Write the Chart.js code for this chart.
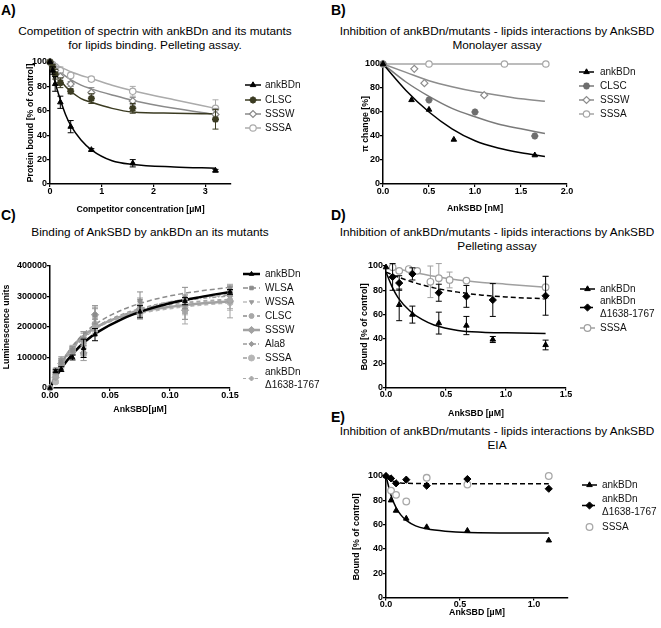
<!DOCTYPE html>
<html>
<head>
<meta charset="utf-8">
<script src="https://cdn.jsdelivr.net/npm/chart.js@4.4.0/dist/chart.umd.min.js"></script>
<style>
  body { margin: 0; background: #fff; width: 661px; height: 628px; position: relative; overflow: hidden;
         font-family: "Liberation Sans", Arial, sans-serif; color: #000; }
  .box { position: absolute; }
  .letter { position: absolute; font-weight: bold; font-size: 14px; line-height: 14px; }
  .ttl { position: absolute; font-size: 11.8px; line-height: 13.5px; text-align: center; white-space: nowrap; transform: translateX(-50%); }
</style>
</head>
<body>

<div class="letter" style="left:1px;top:3px">A)</div>
<div class="ttl" style="left:155px;top:25px">Competition of spectrin with ankBDn and its mutants<br>for lipids binding. Pelleting assay.</div>
<div class="letter" style="left:331px;top:3px">B)</div>
<div class="ttl" style="left:497px;top:25px">Inhibition of ankBDn/mutants - lipids interactions by AnkSBD<br>Monolayer assay</div>
<div class="letter" style="left:1px;top:208px">C)</div>
<div class="ttl" style="left:150px;top:226px">Binding of AnkSBD by ankBDn an its mutants</div>
<div class="letter" style="left:331px;top:208px">D)</div>
<div class="ttl" style="left:497px;top:226px">Inhibition of ankBDn/mutants - lipids interactions by AnkSBD<br>Pelleting assay</div>
<div class="letter" style="left:331px;top:410px">E)</div>
<div class="ttl" style="left:497px;top:425px">Inhibition of ankBDn/mutants - lipids interactions by AnkSBD<br>EIA</div>

<script>
// ---------- A) competition of spectrin, pelleting assay ----------
const aConc = [0, 0.05, 0.1, 0.2, 0.4, 0.8, 1.6, 3.2];
const aAnkBDn = [100, 93, 82, 67, 47, 28, 17, 11];
const aAnkBDnErr = [0, 3, 6, 5, 5, 1, 3, 1];
const aCLSC = [100, 96, 90, 83, 76, 70, 62, 53];
const aCLSCErr = [0, 2, 4, 4, 2, 4, 4, 8];
const aSSSW = [100, 97, 93, 88, 82, 75, 68, 57];
const aSSSWErr = [0, 2, 3, 3, 2, 4, 3, 5];
const aSSSA = [100, 98, 96, 93, 89, 86, 76, 62];
const aSSSAErr = [0, 1, 2, 3, 2, 2, 4, 7];
// fitted curves
const aFitX = [0, 0.1, 0.2, 0.3, 0.4, 0.6, 0.8, 1.2, 1.6, 2.4, 3.2];
const aFitAnkBDn = [100, 83, 69, 57, 48, 36, 28, 19, 16, 14, 13];
const aFitCLSC = [100, 92, 85, 80, 76, 70, 67, 62, 59, 58, 57.5];
const aFitSSSW = [100, 95.5, 92, 88.5, 85.5, 81, 78, 73, 68.5, 62, 57];
const aFitSSSA = [100, 98, 96, 94, 92, 89, 86.5, 81, 76.5, 69, 62];
const aXTicks = [0, 1, 2, 3];
const aXTickLabels = ['0', '1', '2', '3'];
const pctTicks = [0, 20, 40, 60, 80, 100];
const pctTickLabels = ['0', '20', '40', '60', '80', '100'];

// ---------- B) monolayer assay ----------
const bAnkBDnX = [0, 0.31, 0.5, 0.77, 1.65];
const bAnkBDn = [100, 70, 62, 37, 24];
const bCLSCX = [0, 0.5, 1.0, 1.65];
const bCLSC = [100, 70, 60, 40];
const bSSSWX = [0, 0.34, 0.45, 1.1];
const bSSSW = [100, 96, 84, 74];
const bSSSAX = [0, 0.5, 1.32, 1.77];
const bSSSA = [100, 100, 100, 100];
const bFitX = [0, 0.25, 0.5, 0.75, 1.0, 1.25, 1.5, 1.76];
const bFitAnkBDn = [100, 78, 60, 46, 36, 30, 26, 23];
const bFitCLSC = [100, 85, 73, 63, 56, 50, 46, 42];
const bFitSSSW = [100, 93, 86, 81, 77, 74, 71, 69];
const bFitSSSA = [100, 100, 100, 100, 100, 100, 100, 100];
const bXTicks = [0, 0.5, 1.0, 1.5, 2.0];
const bXTickLabels = ['0.0', '0.5', '1.0', '1.5', '2.0'];

// ---------- C) binding of AnkSBD ----------
const cConc = [0, 0.0047, 0.0094, 0.0188, 0.028, 0.0375, 0.075, 0.1125, 0.15];
const cAnkBDn = [0, 55000, 62000, 100000, 130000, 175000, 250000, 285000, 315000];
const cAnkBDnErr = [0, 5000, 8000, 8000, 30000, 20000, 20000, 12000, 8000];
const cWLSA = [0, 60000, 85000, 125000, 160000, 240000, 285000, 295000, 325000];
const cWLSAErr = [0, 5000, 10000, 10000, 20000, 30000, 30000, 35000, 10000];
const cWSSA = [0, 50000, 75000, 118000, 150000, 225000, 270000, 265000, 318000];
const cWSSAErr = [0, 5000, 8000, 10000, 15000, 35000, 25000, 40000, 15000];
const cCLSC = [0, 40000, 85000, 128000, 150000, 205000, 255000, 250000, 290000];
const cCLSCErr = [0, 5000, 10000, 10000, 20000, 25000, 20000, 40000, 30000];
const cSSSW = [0, 35000, 80000, 120000, 115000, 240000, 260000, 255000, 285000];
const cSSSWErr = [0, 5000, 10000, 10000, 25000, 25000, 25000, 30000, 55000];
const cAla8 = [0, 45000, 90000, 125000, 165000, 200000, 250000, 270000, 300000];
const cAla8Err = [0, 5000, 8000, 10000, 20000, 25000, 20000, 25000, 20000];
const cSSSA = [0, 20000, 75000, 130000, 110000, 210000, 245000, 265000, 280000];
const cSSSAErr = [0, 5000, 10000, 10000, 20000, 25000, 20000, 25000, 25000];
const cDelta = [0, 50000, 95000, 120000, 165000, 215000, 265000, 280000, 310000];
const cDeltaErr = [0, 5000, 8000, 10000, 20000, 25000, 25000, 25000, 20000];
const cFitX = [0, 0.005, 0.01, 0.02, 0.03, 0.04, 0.06, 0.08, 0.1, 0.125, 0.15];
const cFitAnkBDn = [0, 36000, 68000, 117000, 155000, 184000, 226000, 256000, 278000, 298000, 315000];
const cFitWLSA = [0, 45000, 84000, 143000, 185000, 215000, 256000, 283000, 302000, 318000, 330000];
const cFitWSSA = [0, 43000, 80000, 136000, 175000, 204000, 242000, 266000, 283000, 296000, 305000];
const cFitCLSC = [0, 44000, 82000, 138000, 176000, 203000, 238000, 259000, 273000, 284000, 290000];
const cFitSSSW = [0, 46000, 85000, 141000, 178000, 203000, 235000, 254000, 266000, 277000, 284000];
const cFitAla8 = [0, 42000, 79000, 134000, 172000, 200000, 238000, 262000, 279000, 293000, 302000];
const cFitSSSA = [0, 47000, 86000, 141000, 177000, 201000, 231000, 249000, 261000, 272000, 280000];
const cFitDelta = [0, 41000, 77000, 131000, 169000, 198000, 238000, 264000, 283000, 298000, 310000];
const cXTicks = [0, 0.05, 0.10, 0.15];
const cXTickLabels = ['0.00', '0.05', '0.10', '0.15'];
const cYTicks = [0, 100000, 200000, 300000, 400000];
const cYTickLabels = ['0', '100000', '200000', '300000', '400000'];

// ---------- D) pelleting assay ----------
const dAnkBDnX = [0, 0.11, 0.22, 0.44, 0.67, 0.89, 1.33];
const dAnkBDn = [99, 68, 60, 53, 51, 39.5, 35];
const dAnkBDnErr = [0, 13, 7, 9, 7.5, 2.5, 4];
const dDeltaX = [0.055, 0.11, 0.22, 0.44, 0.67, 0.89, 1.33];
const dDelta = [91, 86, 93.5, 78, 75, 72, 75.5];
const dDeltaErr = [11, 6, 5, 7, 9, 13.5, 16];
const dSSSAX = [0.055, 0.11, 0.19, 0.26, 0.37, 0.44, 0.53, 0.67, 1.33];
const dSSSA = [99, 96, 97.5, 96, 87, 90, 88.5, 88, 82.5];
const dSSSAErr = [1, 1, 1, 1, 13, 12, 6.5, 1, 9];
const dFitX = [0, 0.05, 0.1, 0.2, 0.3, 0.4, 0.6, 0.8, 1.0, 1.33];
const dFitAnkBDn = [95, 83, 74, 63, 56, 51.5, 47, 45.5, 45, 44.5];
const dFitDelta = [95, 93, 91, 87.5, 84.5, 82, 78.5, 76, 74.5, 73];
const dFitSSSA = [99, 98.5, 97.5, 95.5, 93.5, 91.5, 88.5, 86.5, 85, 82.5];
const dXTicks = [0, 0.5, 1.0, 1.5];
const dXTickLabels = ['0.0', '0.5', '1.0', '1.5'];

// ---------- E) EIA ----------
const eConc = [0, 0.034, 0.068, 0.137, 0.275, 0.55, 1.1];
const eAnkBDn = [100, 80, 71.5, 65, 58, 55, 47];
const eDelta = [100, 98, 94, 97, 92, 97.5, 89.5];
const eSSSAX = [0.034, 0.068, 0.137, 0.275, 0.55, 1.1];
const eSSSA = [88, 84.5, 79, 98.5, 93, 100];
const eFitX = [0, 0.034, 0.068, 0.1, 0.137, 0.2, 0.275, 0.4, 0.55, 1.1];
const eFitAnkBDn = [100, 84, 74, 68, 63.5, 59, 56.5, 54.5, 53.5, 53];
const eFitDelta = [100, 96.5, 95, 94.3, 94, 93.8, 93.7, 93.7, 93.7, 93.7];
const eXTicks = [0, 0.5, 1.0];
const eXTickLabels = ['0.0', '0.5', '1.0'];

const FONT = '"Liberation Sans", Arial, sans-serif';

// draws vertical error bars under the markers
const errorBars = {
  id: 'errorBars',
  beforeDatasetDraw(chart, args) {
    const ds = chart.data.datasets[args.index];
    if (!ds.errors) return;
    const ctx = chart.ctx, ys = chart.scales.y;
    ctx.save();
    ctx.strokeStyle = ds.pointBorderColor;
    ctx.lineWidth = 1;
    args.meta.data.forEach((pt, i) => {
      const e = ds.errors[i];
      if (!e) return;
      const v = ds.data[i].y;
      const y1 = ys.getPixelForValue(v - e), y2 = ys.getPixelForValue(v + e);
      ctx.beginPath();
      ctx.moveTo(pt.x, y1); ctx.lineTo(pt.x, y2);
      ctx.moveTo(pt.x - 3, y1); ctx.lineTo(pt.x + 3, y1);
      ctx.moveTo(pt.x - 3, y2); ctx.lineTo(pt.x + 3, y2);
      ctx.stroke();
    });
    ctx.restore();
  }
};

// legend at the right of each panel: line + marker + label
const sideLegend = {
  id: 'sideLegend',
  afterDraw(chart, args, opts) {
    if (!opts.items) return;
    const ctx = chart.ctx;
    ctx.save();
    opts.items.forEach(it => {
      const y = it.y - opts.oy;
      const x0 = opts.x0 - opts.ox, x1 = opts.x1 - opts.ox;
      if (it.fit != null) {
        const f = chart.data.datasets[it.fit];
        ctx.strokeStyle = f.borderColor;
        ctx.lineWidth = f.borderWidth;
        ctx.setLineDash(f.borderDash || []);
        ctx.beginPath(); ctx.moveTo(x0, y); ctx.lineTo(x1, y); ctx.stroke();
        ctx.setLineDash([]);
      }
      const p = chart.data.datasets[it.pts];
      ctx.fillStyle = p.pointBackgroundColor;
      ctx.strokeStyle = p.pointBorderColor;
      ctx.lineWidth = p.pointBorderWidth;
      Chart.helpers.drawPoint(ctx, { pointStyle: p.pointStyle, radius: p.pointRadius,
        rotation: p.pointRotation || 0, borderWidth: p.pointBorderWidth }, (x0 + x1) / 2, y);
      ctx.fillStyle = '#111';
      ctx.font = '10px ' + FONT;
      ctx.textBaseline = 'middle';
      const n = it.text.length;
      it.text.forEach((t, k) => ctx.fillText(t, opts.tx - opts.ox, y + (k - (n - 1) / 2) * 13));
    });
    ctx.restore();
  }
};

function pts(xs, ys, errs, st) {
  return {
    data: xs.map((x, i) => ({ x: x, y: ys[i] })), errors: errs, showLine: false, order: 0, clip: false,
    pointStyle: st.shape, pointRadius: st.r, pointRotation: st.rot || 0,
    pointBackgroundColor: st.fill, pointBorderColor: st.color, pointBorderWidth: st.bw || 1,
    borderColor: st.color, backgroundColor: st.fill
  };
}
function fit(xs, ys, st) {
  return {
    data: xs.map((x, i) => ({ x: x, y: ys[i] })), showLine: true, order: 1, clip: false,
    pointRadius: 0, borderColor: st.line || st.color, borderWidth: st.lw || 1.2,
    borderDash: st.dash || [], cubicInterpolationMode: 'monotone', fill: false
  };
}

function axis(ticks, labels, min, max, title, fixSize, horizontal) {
  return {
    type: 'linear', min: min, max: max,
    afterBuildTicks: s => { s.ticks = ticks.map(v => ({ value: v })); },
    afterFit: s => { if (horizontal) s.height = fixSize; else s.width = fixSize; },
    ticks: {
      callback: (v, i) => labels[i], color: '#000', padding: horizontal ? -1 : 0, maxRotation: 0, autoSkip: false,
      font: { family: FONT, size: 9, weight: 'bold' }
    },
    grid: { drawOnChartArea: false, drawTicks: true, tickLength: 3, color: '#000', lineWidth: 1.2 },
    border: { display: true, color: '#000', width: 1.5 },
    title: { display: true, text: title, color: '#000', padding: 0,
             font: { family: FONT, size: 8.8, weight: 'bold' } }
  };
}

function panel(g, datasets, xAx, yAx, legend) {
  const div = document.createElement('div');
  div.className = 'box';
  div.style.left = g.cl + 'px'; div.style.top = g.ct + 'px';
  const cv = document.createElement('canvas');
  cv.width = g.cw; cv.height = g.ch;
  div.appendChild(cv);
  document.body.appendChild(div);
  legend.ox = g.cl; legend.oy = g.ct;
  new Chart(cv, {
    type: 'scatter',
    data: { datasets: datasets },
    options: {
      responsive: false, animation: false, events: [],
      layout: { padding: { left: 0, bottom: 0, top: g.top - g.ct, right: g.cl + g.cw - g.right } },
      scales: {
        x: axis(xAx.ticks, xAx.labels, xAx.min, xAx.max, xAx.title, g.ct + g.ch - g.bottom, true),
        y: axis(yAx.ticks, yAx.labels, yAx.min, yAx.max, yAx.title, g.left - g.cl, false)
      },
      plugins: { legend: { display: false }, tooltip: { enabled: false }, sideLegend: legend }
    },
    plugins: [errorBars, sideLegend]
  });
}

// ----- styles -----
const sAnk = { shape: 'triangle', r: 3.2, fill: '#000', color: '#000', lw: 1.5 };
const sDelta = { shape: 'rectRot', r: 3.6, fill: '#000', color: '#000', lw: 1.5, dash: [5, 3] };

// Panel A
panel({ cl: 25, ct: 50, cw: 305, ch: 165, left: 50, top: 62, right: 231, bottom: 184 }, [
  pts(aConc, aAnkBDn, aAnkBDnErr, sAnk), fit(aFitX, aFitAnkBDn, sAnk),
  pts(aConc, aCLSC, aCLSCErr, { shape: 'star', r: 3.5, fill: '#3b3b22', color: '#3b3b22', bw: 2 }),
  fit(aFitX, aFitCLSC, { color: '#3b3b22', lw: 1.5 }),
  pts(aConc, aSSSW, aSSSWErr, { shape: 'rectRot', r: 3.5, fill: '#fff', color: '#8a8a8a', bw: 1.2 }),
  fit(aFitX, aFitSSSW, { color: '#8a8a8a', lw: 1.5 }),
  pts(aConc, aSSSA, aSSSAErr, { shape: 'circle', r: 3.2, fill: '#fff', color: '#ababab', bw: 1.2 }),
  fit(aFitX, aFitSSSA, { color: '#ababab', lw: 1.5 })
], { ticks: aXTicks, labels: aXTickLabels, min: 0, max: 3.5, title: 'Competitor concentration [µM]' },
   { ticks: pctTicks, labels: pctTickLabels, min: 0, max: 100, title: 'Protein bound [% of control]' },
   { x0: 245, x1: 261, tx: 265, items: [
     { text: ['ankBDn'], y: 85, pts: 0, fit: 1 }, { text: ['CLSC'], y: 100, pts: 2, fit: 3 },
     { text: ['SSSW'], y: 114, pts: 4, fit: 5 }, { text: ['SSSA'], y: 128, pts: 6, fit: 7 }] });

// Panel B
panel({ cl: 360, ct: 52, cw: 301, ch: 162, left: 383, top: 64, right: 567, bottom: 184 }, [
  pts(bAnkBDnX, bAnkBDn, null, sAnk), fit(bFitX, bFitAnkBDn, sAnk),
  pts(bCLSCX, bCLSC, null, { shape: 'star', r: 3.5, fill: '#6e6e6e', color: '#6e6e6e', bw: 2.2 }),
  fit(bFitX, bFitCLSC, { color: '#7a7a7a', lw: 1.5 }),
  pts(bSSSWX, bSSSW, null, { shape: 'rectRot', r: 3.5, fill: '#fff', color: '#8c8c8c', bw: 1.2 }),
  fit(bFitX, bFitSSSW, { color: '#8c8c8c', lw: 1.5 }),
  pts(bSSSAX, bSSSA, null, { shape: 'circle', r: 3.2, fill: '#fff', color: '#a6a6a6', bw: 1.2 }),
  fit(bFitX, bFitSSSA, { color: '#a6a6a6', lw: 1.5 })
], { ticks: bXTicks, labels: bXTickLabels, min: 0, max: 2.0, title: 'AnkSBD [nM]' },
   { ticks: pctTicks, labels: pctTickLabels, min: 0, max: 100, title: 'π change [%]' },
   { x0: 579, x1: 594, tx: 600, items: [
     { text: ['ankBDn'], y: 72, pts: 0, fit: 1 }, { text: ['CLSC'], y: 86, pts: 2, fit: 3 },
     { text: ['SSSW'], y: 100, pts: 4, fit: 5 }, { text: ['SSSA'], y: 114, pts: 6, fit: 7 }] });

// Panel C
const cStyles = [
  { shape: 'triangle', r: 2.6, fill: '#000', color: '#000', lw: 2.5 },
  { shape: 'rect', r: 2.5, fill: '#8c8c8c', color: '#8c8c8c', lw: 1.5, dash: [5, 3] },
  { shape: 'triangle', rot: 180, r: 2.5, fill: '#9c9c9c', color: '#9c9c9c', lw: 1.2, dash: [4, 3] },
  { shape: 'circle', r: 2.5, fill: '#a8a8a8', color: '#a8a8a8', lw: 2, dash: [4, 3] },
  { shape: 'rectRot', r: 3.6, fill: '#a2a2a2', color: '#a2a2a2', lw: 2.5 },
  { shape: 'rectRot', r: 2.6, fill: '#9a9a9a', color: '#9a9a9a', lw: 1.5, dash: [4, 2, 1, 2] },
  { shape: 'circle', r: 3, fill: '#b6b6b6', color: '#b6b6b6', lw: 2, dash: [4, 3] },
  { shape: 'rectRot', r: 2.5, fill: '#ababab', color: '#ababab', lw: 1.2, dash: [3, 3] }
];
const cSeries = [
  [cAnkBDn, cAnkBDnErr, cFitAnkBDn], [cWLSA, cWLSAErr, cFitWLSA], [cWSSA, cWSSAErr, cFitWSSA],
  [cCLSC, cCLSCErr, cFitCLSC], [cSSSW, cSSSWErr, cFitSSSW], [cAla8, cAla8Err, cFitAla8],
  [cSSSA, cSSSAErr, cFitSSSA], [cDelta, cDeltaErr, cFitDelta]
];
const cNames = [['ankBDn'], ['WLSA'], ['WSSA'], ['CLSC'], ['SSSW'], ['Ala8'], ['SSSA'], ['ankBDn', 'Δ1638-1767']];
const cLegendY = [274, 288, 302, 316, 330, 344, 358, 378.5];
const cData = [];
cSeries.forEach((s, i) => {
  cData.push(pts(cConc, s[0], s[1], cStyles[i]));
  cData.push(fit(cFitX, s[2], cStyles[i]));
});
// black ankBDn drawn on top of the grey ones
cData[0].order = -1; cData[1].order = 0.5;
panel({ cl: 1, ct: 254, cw: 329, ch: 161, left: 50, top: 266, right: 230, bottom: 388 }, cData,
  { ticks: cXTicks, labels: cXTickLabels, min: 0, max: 0.15, title: 'AnkSBD[µM]' },
  { ticks: cYTicks, labels: cYTickLabels, min: 0, max: 400000, title: 'Luminescence units' },
  { x0: 243, x1: 260, tx: 265, items: cNames.map((n, i) => ({ text: n, y: cLegendY[i], pts: 2 * i, fit: 2 * i + 1 })) });

// Panel D
panel({ cl: 359, ct: 254, cw: 302, ch: 165, left: 386, top: 266, right: 566, bottom: 387.5 }, [
  pts(dAnkBDnX, dAnkBDn, dAnkBDnErr, sAnk), fit(dFitX, dFitAnkBDn, sAnk),
  pts(dDeltaX, dDelta, dDeltaErr, sDelta), fit(dFitX, dFitDelta, sDelta),
  pts(dSSSAX, dSSSA, dSSSAErr, { shape: 'circle', r: 3.3, fill: '#fff', color: '#a0a0a0', bw: 1.2 }),
  fit(dFitX, dFitSSSA, { color: '#a0a0a0', lw: 1.5 })
], { ticks: dXTicks, labels: dXTickLabels, min: 0, max: 1.5, title: 'AnkSBD [µM]' },
   { ticks: pctTicks, labels: pctTickLabels, min: 0, max: 100, title: 'Bound [% of control]' },
   { x0: 580, x1: 595, tx: 600, items: [
     { text: ['ankBDn'], y: 289, pts: 0, fit: 1 },
     { text: ['ankBDn', 'Δ1638-1767'], y: 307.5, pts: 2, fit: 3 },
     { text: ['SSSA'], y: 328, pts: 4, fit: 5 }] });

// Panel E
panel({ cl: 351, ct: 464, cw: 310, ch: 154, left: 386, top: 476, right: 568, bottom: 597.5 }, [
  pts(eConc, eAnkBDn, null, sAnk), fit(eFitX, eFitAnkBDn, sAnk),
  pts(eConc, eDelta, null, sDelta), fit(eFitX, eFitDelta, sDelta),
  pts(eSSSAX, eSSSA, null, { shape: 'circle', r: 3.3, fill: '#fff', color: '#a8a8a8', bw: 1.3 })
], { ticks: eXTicks, labels: eXTickLabels, min: 0, max: 1.23, title: 'AnkSBD [µM]' },
   { ticks: pctTicks, labels: pctTickLabels, min: 0, max: 100, title: 'Bound [% of control]' },
   { x0: 582, x1: 597, tx: 602, items: [
     { text: ['ankBDn'], y: 485, pts: 0, fit: 1 },
     { text: ['ankBDn', 'Δ1638-1767'], y: 505.5, pts: 2, fit: 3 },
     { text: ['SSSA'], y: 527, pts: 4, fit: null }] });
</script>
</body>
</html>
